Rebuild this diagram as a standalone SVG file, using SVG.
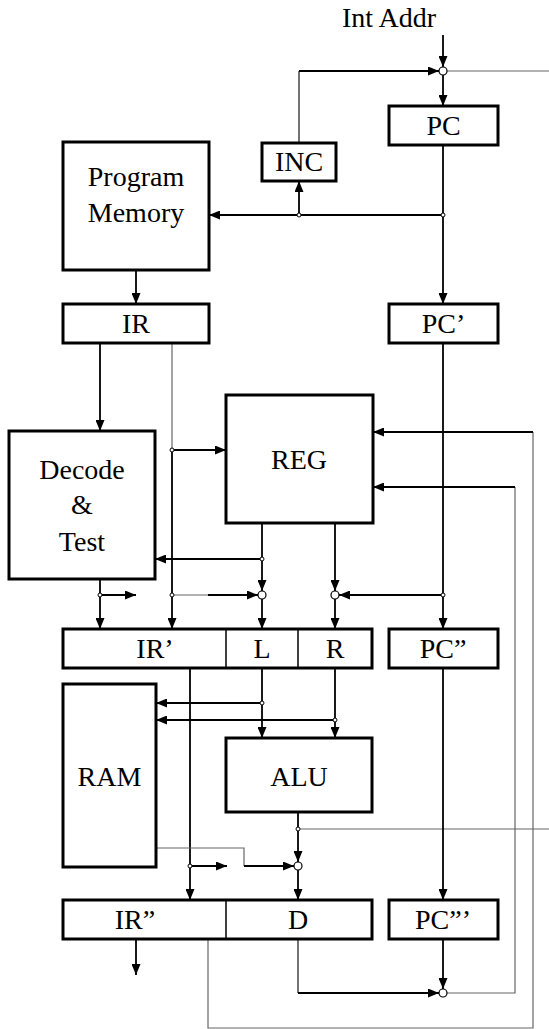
<svg xmlns="http://www.w3.org/2000/svg" width="549" height="1029" viewBox="0 0 549 1029">
<defs>
<marker id="ah" markerUnits="userSpaceOnUse" markerWidth="11" markerHeight="9" refX="11" refY="4.5" orient="auto">
<path d="M0,0 L11,4.5 L0,9 z" fill="#000"/>
</marker>
<style>
.box{fill:#fff;stroke:#000;stroke-width:3}
.div{stroke:#000;stroke-width:1.5}
text{font-family:'Liberation Serif','DejaVu Serif','Noto Serif',serif;font-size:28px;fill:#000;text-anchor:middle}
.w{fill:none;stroke:#000;stroke-width:1.8}
.a{marker-end:url(#ah)}
.g{fill:none;stroke:#666;stroke-width:1.2}
.t{fill:none;stroke:#000;stroke-width:1.1}
.m{fill:#fff;stroke:#000;stroke-width:1.2}
.d{fill:#fff;stroke:#000;stroke-width:1}
</style>
</defs>
<rect width="549" height="1029" fill="#fff"/>
<g font-family="Liberation Serif, DejaVu Serif, serif">
<text x="389" y="27">Int Addr</text>
</g>
<g id="connectors">
<path class="w a" d="M443,35 V67"/>
<path class="w a" d="M443,75 V106"/>
<path class="g" d="M447,71 H549"/>
<path class="t" d="M299,143 V71"/>
<path class="w a" d="M299,71 H439"/>
<path class="w a" d="M443,145 V304"/>
<path class="w a" d="M443,215 H209"/>
<path class="w a" d="M299,215 V181"/>
<path class="w a" d="M136,270 V304"/>
<path class="w a" d="M100,343 V431"/>
<path class="g" d="M172,343 V450"/>
<path class="w a" d="M172,450 V629"/>
<path class="w a" d="M172,450 H226"/>
<path class="w a" d="M100,579 V629"/>
<path class="w a" d="M100,595 H136"/>
<path class="g" d="M172,595 H208"/>
<path class="w a" d="M208,595 H258"/>
<path class="w a" d="M262,523 V591"/>
<path class="w a" d="M262,599 V629"/>
<path class="w a" d="M262,559 H155"/>
<path class="w a" d="M335,523 V591"/>
<path class="w a" d="M335,599 V629"/>
<path class="w a" d="M443,343 V629"/>
<path class="w a" d="M443,595 H339"/>
<path class="g" d="M208,939 V1028 H533 V432"/>
<path class="w a" d="M533,432 H373"/>
<path class="g" d="M447,993 H515 V487"/>
<path class="w a" d="M515,487 H373"/>
<path class="w a" d="M262,668 V738"/>
<path class="w a" d="M262,703 H156"/>
<path class="w a" d="M335,668 V738"/>
<path class="w a" d="M335,720 H156"/>
<path class="w a" d="M190,668 V900"/>
<path class="w a" d="M190,866 H227"/>
<path class="g" d="M156,848 H244 V866"/>
<path class="w a" d="M244,866 H294"/>
<path class="w a" d="M298,812 V862"/>
<path class="w a" d="M298,870 V900"/>
<path class="g" d="M298,829 H549"/>
<path class="w a" d="M443,668 V900"/>
<path class="w a" d="M136,939 V975"/>
<path class="t" d="M298,939 V993"/>
<path class="w a" d="M298,993 H439"/>
<path class="w a" d="M443,939 V989"/>
<circle class="m" cx="443" cy="71" r="4"/>
<circle class="m" cx="262" cy="595" r="4"/>
<circle class="m" cx="335" cy="595" r="4"/>
<circle class="m" cx="298" cy="866" r="4"/>
<circle class="m" cx="443" cy="993" r="4"/>
<circle class="d" cx="443" cy="215" r="2"/>
<circle class="d" cx="299" cy="215" r="2"/>
<circle class="d" cx="172" cy="450" r="2"/>
<circle class="d" cx="172" cy="595" r="2"/>
<circle class="d" cx="100" cy="595" r="2"/>
<circle class="d" cx="262" cy="559" r="2"/>
<circle class="d" cx="443" cy="595" r="2"/>
<circle class="d" cx="262" cy="703" r="2"/>
<circle class="d" cx="335" cy="720" r="2"/>
<circle class="d" cx="298" cy="829" r="2"/>
<circle class="d" cx="190" cy="866" r="2"/>
</g>
<g id="PC"><rect class="box" x="389" y="106" width="109" height="39"/><text x="443.5" y="135">PC</text></g>
<g id="INC"><rect class="box" x="262" y="143" width="74" height="38"/><text x="299" y="171">INC</text></g>
<g id="ProgramMemory"><rect class="box" x="63" y="142" width="146" height="128"/><text x="136" y="186">Program</text><text x="136" y="222">Memory</text></g>
<g id="IR"><rect class="box" x="63" y="304" width="146" height="39"/><text x="136" y="333">IR</text></g>
<g id="PC1"><rect class="box" x="389" y="304" width="109" height="39"/><text x="443.5" y="333">PC’</text></g>
<g id="REG"><rect class="box" x="226" y="395" width="147" height="128"/><text x="299" y="469">REG</text></g>
<g id="Decode"><rect class="box" x="9" y="431" width="146" height="148"/><text x="82" y="479">Decode</text><text x="82" y="514">&amp;</text><text x="82" y="551">Test</text></g>
<g id="IR1LR"><rect class="box" x="63" y="629" width="309" height="39"/><line class="div" x1="226" y1="629" x2="226" y2="668"/><line class="div" x1="298" y1="629" x2="298" y2="668"/><text x="155" y="658">IR’</text><text x="262" y="658">L</text><text x="335" y="658">R</text></g>
<g id="PC2"><rect class="box" x="389" y="629" width="109" height="39"/><text x="443" y="658">PC”</text></g>
<g id="RAM"><rect class="box" x="63" y="684" width="93" height="183"/><text x="109.5" y="786">RAM</text></g>
<g id="ALU"><rect class="box" x="226" y="738" width="146" height="74"/><text x="299" y="786">ALU</text></g>
<g id="IR2D"><rect class="box" x="63" y="900" width="309" height="39"/><line class="div" x1="226" y1="900" x2="226" y2="939"/><text x="135" y="929">IR”</text><text x="298" y="929">D</text></g>
<g id="PC3"><rect class="box" x="389" y="900" width="109" height="39"/><text x="443" y="929">PC”’</text></g>
</svg>
